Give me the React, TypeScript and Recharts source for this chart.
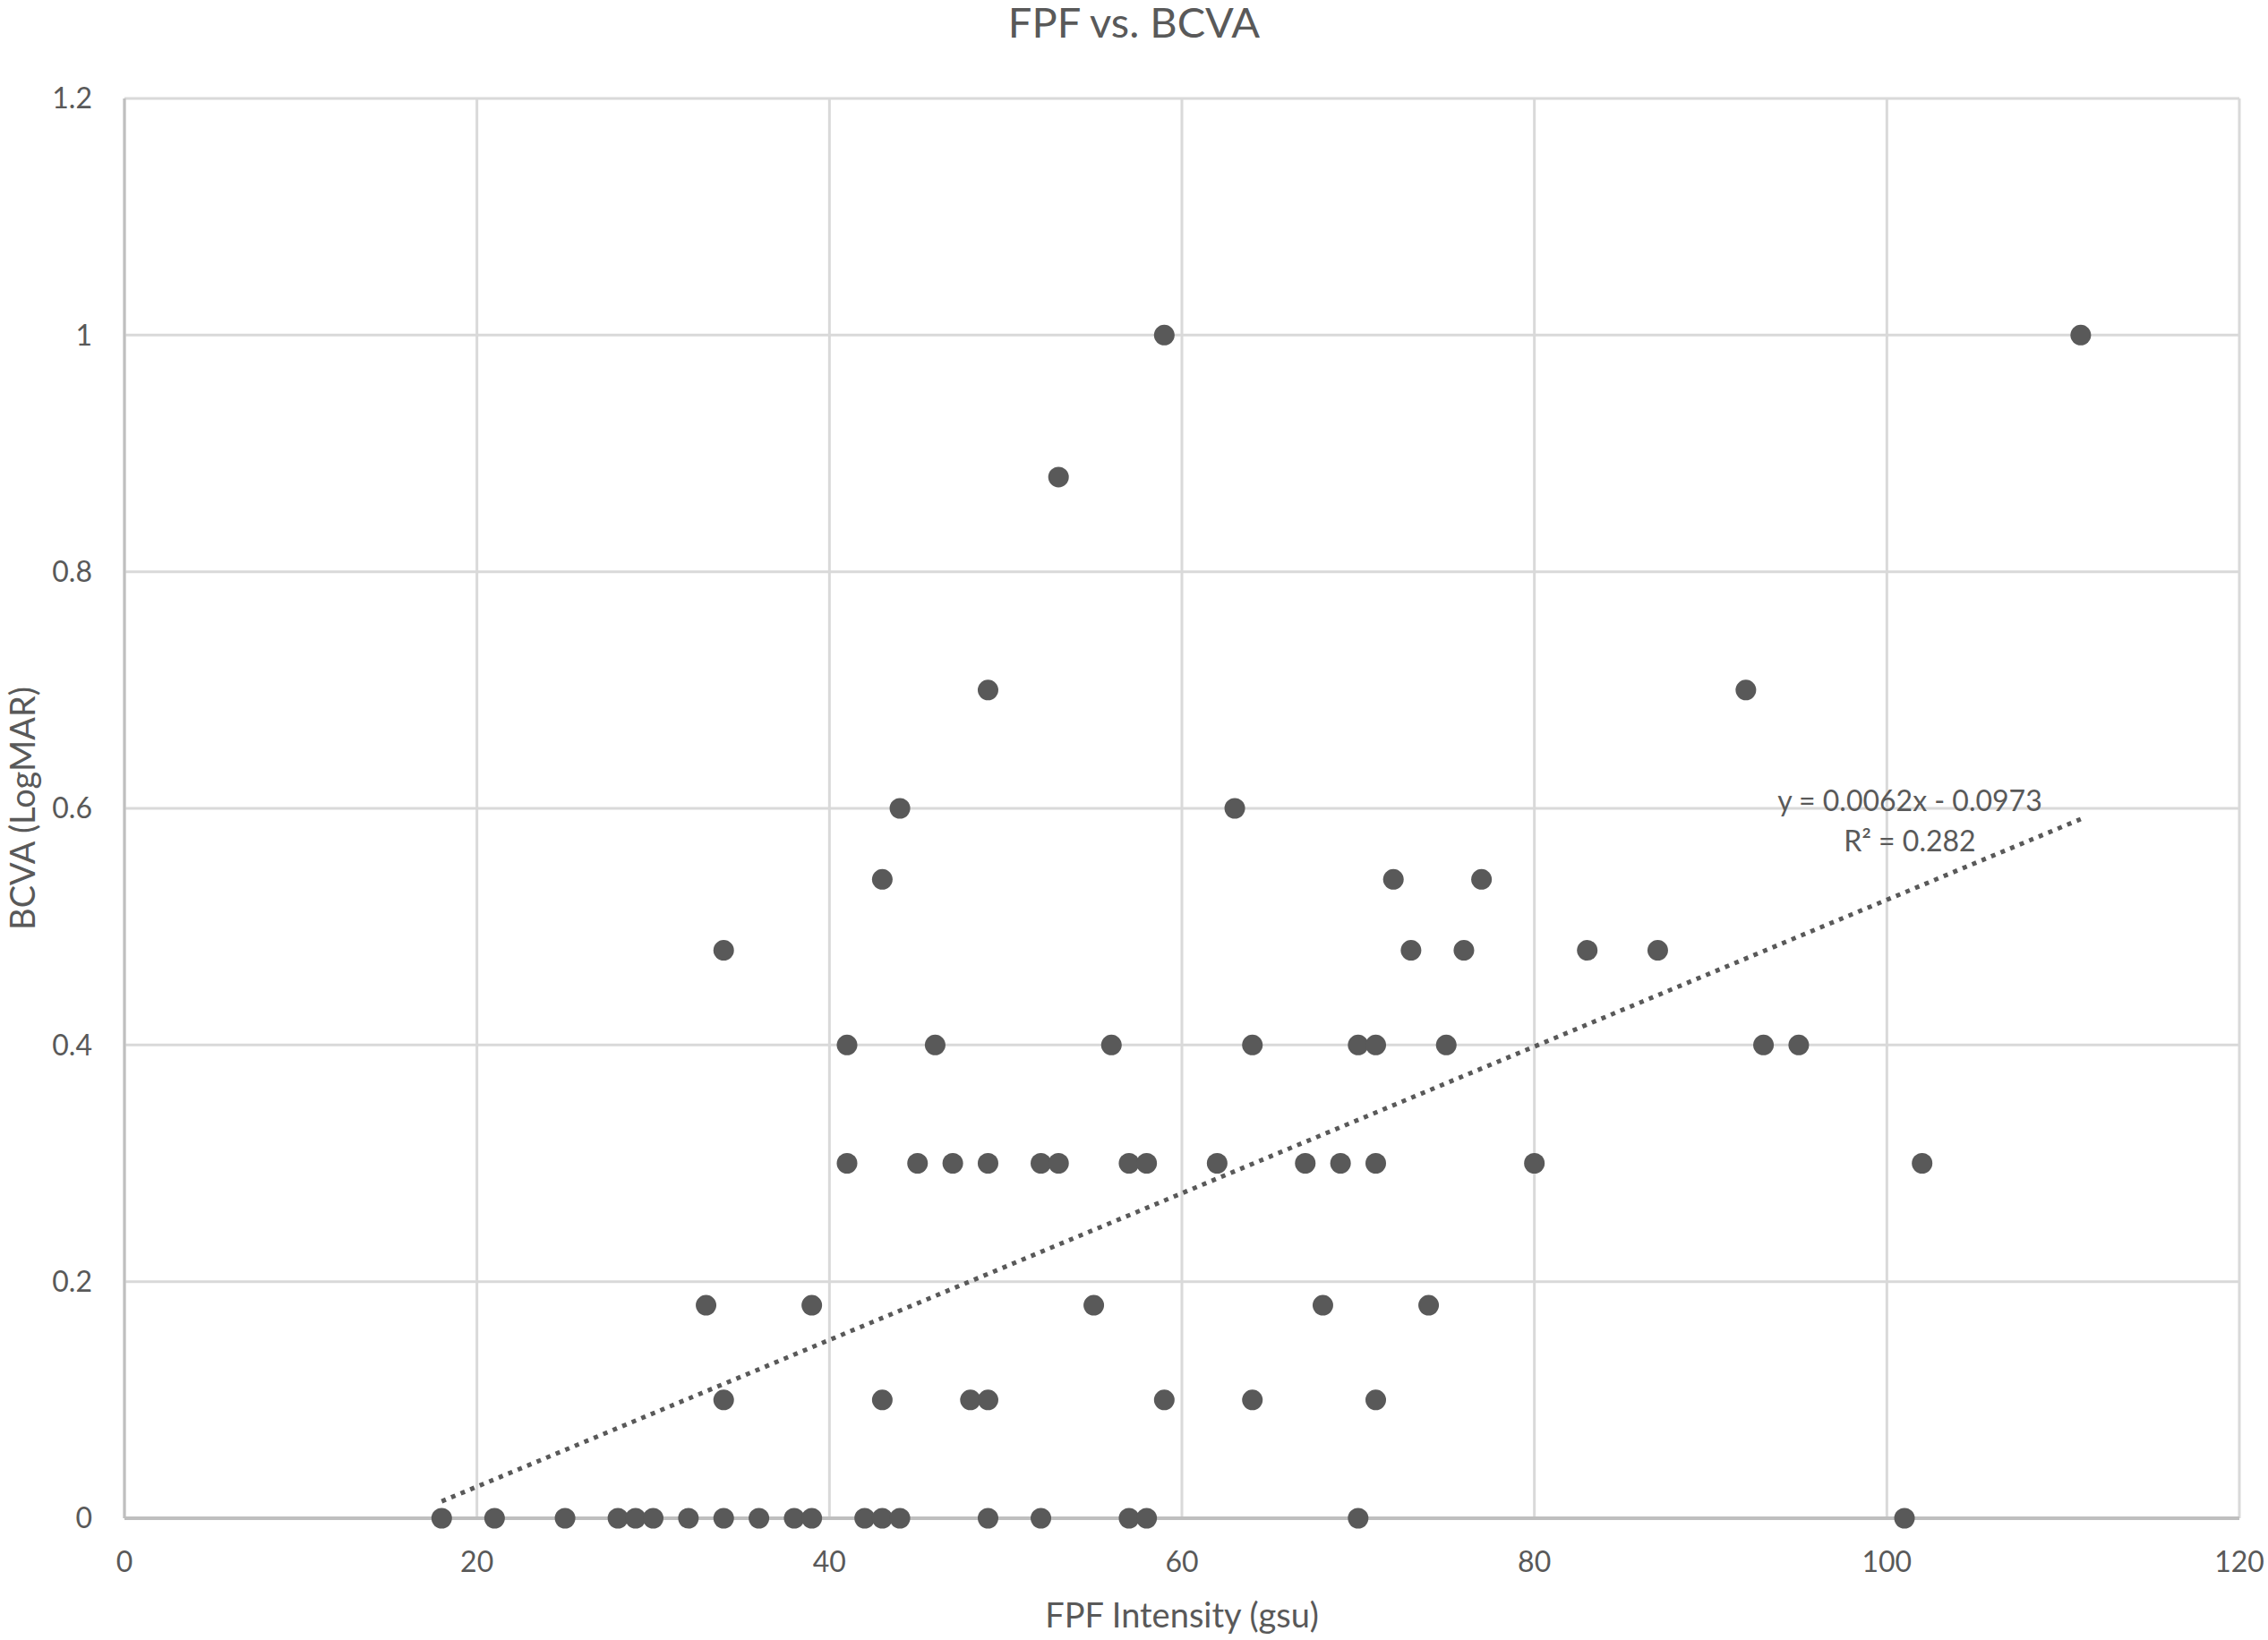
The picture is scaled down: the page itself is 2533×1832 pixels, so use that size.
import React from "react"
import {
  ScatterChart,
  Scatter,
  XAxis,
  YAxis,
  CartesianGrid,
  ReferenceDot,
} from "recharts"

// FPF intensity (gsu) and BCVA (LogMAR), one entry per eye
const fpfIntensity = [
  18, 21, 25, 28, 29, 30, 32, 34, 36, 38, 39, 42, 43, 44, 49, 52, 57, 58, 70, 101,
  34, 43, 48, 49, 59, 64, 71,
  33, 39, 55, 68, 74,
  41, 45, 47, 49, 52, 53, 57, 58, 62, 67, 69, 71, 80, 102,
  41, 46, 56, 64, 70, 71, 75, 93, 95,
  34, 73, 76, 83, 87,
  43, 72, 77,
  44, 63,
  49, 92,
  53,
  59, 111,
]
const bcva = [
  0, 0, 0, 0, 0, 0, 0, 0, 0, 0, 0, 0, 0, 0, 0, 0, 0, 0, 0, 0,
  0.1, 0.1, 0.1, 0.1, 0.1, 0.1, 0.1,
  0.18, 0.18, 0.18, 0.18, 0.18,
  0.3, 0.3, 0.3, 0.3, 0.3, 0.3, 0.3, 0.3, 0.3, 0.3, 0.3, 0.3, 0.3, 0.3,
  0.4, 0.4, 0.4, 0.4, 0.4, 0.4, 0.4, 0.4, 0.4,
  0.48, 0.48, 0.48, 0.48, 0.48,
  0.54, 0.54, 0.54,
  0.6, 0.6,
  0.7, 0.7,
  0.88,
  1, 1,
]

const xTicks = [0, 20, 40, 60, 80, 100, 120]
const yTicks = [0, 0.2, 0.4, 0.6, 0.8, 1, 1.2]

// linear trendline reported by the spreadsheet
const slope = 0.0062
const intercept = -0.0973
const trendRange = [18, 111]

const TEXT = "#595959"
const MARKER = "#595959"
const GRID = "#d9d9d9"
const AXIS = "#bfbfbf"

const points = fpfIntensity.map((x, i) => ({ x, y: bcva[i] }))
const trend = trendRange.map((x) => ({ x, y: slope * x + intercept }))

const Dot = (props: any) => <circle cx={props.cx} cy={props.cy} r={11.5} fill={MARKER} />

export default function App() {
  return (
    <div style={{ position: "absolute", left: 0, top: 0, width: 2533, height: 1832, fontFamily: "Lato", background: "#fff" }}>
      <div
        style={{
          position: "absolute",
          top: 0,
          left: 0,
          width: 2533,
          textAlign: "center",
          fontSize: 47,
          lineHeight: "48px",
          color: TEXT,
        }}
      >
        FPF vs. BCVA
      </div>
      <ScatterChart width={2533} height={1832} margin={{ top: 110, right: 32, bottom: 0, left: 0 }}>
        <CartesianGrid stroke={GRID} strokeWidth={3} />
        <XAxis
          type="number"
          dataKey="x"
          domain={[0, 120]}
          ticks={xTicks}
          height={136}
          tickLine={false}
          tickMargin={31}
          axisLine={{ stroke: AXIS, strokeWidth: 4 }}
          tick={{ fill: TEXT, fontSize: 32 }}
          label={{ value: "FPF Intensity (gsu)", position: "insideBottom", offset: 14, fill: TEXT, fontSize: 38 }}
        />
        <YAxis
          type="number"
          dataKey="y"
          domain={[0, 1.2]}
          ticks={yTicks}
          width={139}
          tickLine={false}
          tickMargin={30}
          axisLine={{ stroke: AXIS, strokeWidth: 3 }}
          tick={{ fill: TEXT, fontSize: 32 }}
          tickFormatter={(v: number) => String(v)}
          label={{
            value: "BCVA (LogMAR)",
            angle: -90,
            position: "insideLeft",
            offset: 26,
            fill: TEXT,
            fontSize: 38,
            style: { textAnchor: "middle" },
          }}
        />
        <Scatter
          data={trend}
          line={{ stroke: TEXT, strokeWidth: 5, strokeDasharray: "5 6.5" }}
          shape={() => <g />}
          isAnimationActive={false}
        />
        <Scatter data={points} shape={Dot} isAnimationActive={false} />
        <ReferenceDot
          x={101.3}
          y={0.606}
          r={0}
          fill="none"
          stroke="none"
          label={{ value: "y = 0.0062x - 0.0973", position: "center", fill: TEXT, fontSize: 32 }}
        />
        <ReferenceDot
          x={101.3}
          y={0.572}
          r={0}
          fill="none"
          stroke="none"
          label={{ value: "R² = 0.282", position: "center", fill: TEXT, fontSize: 32 }}
        />
      </ScatterChart>
    </div>
  )
}
